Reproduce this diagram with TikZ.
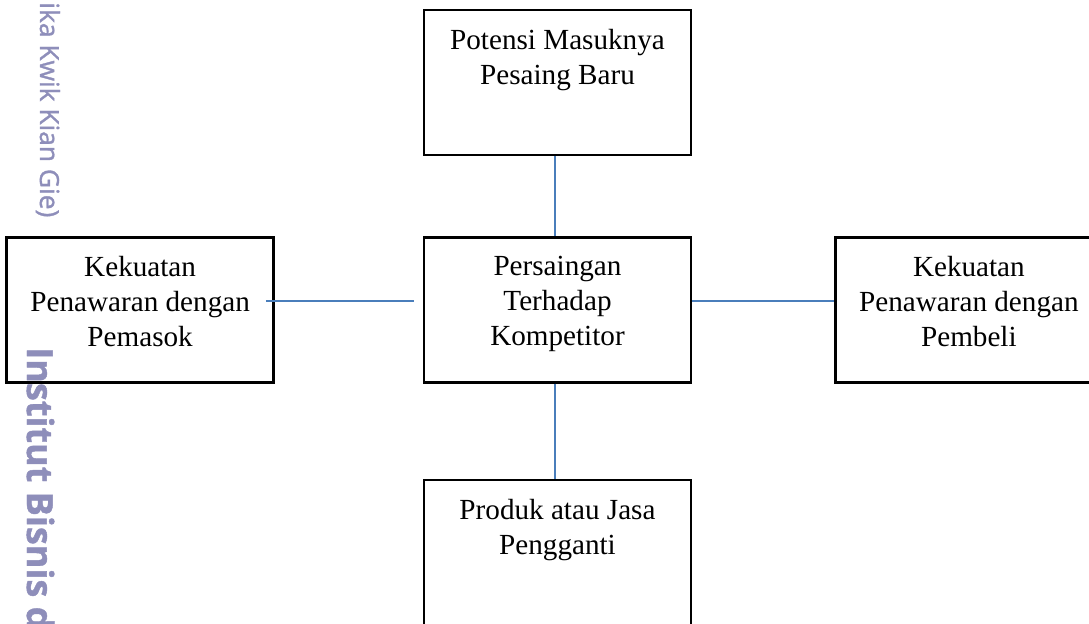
\documentclass[tikz,border=0pt]{standalone}
\usepackage{fontspec}
\setmainfont{Liberation Serif}
\newfontfamily\wmfont[FakeBold=1.2]{Open Sans}
\usetikzlibrary{positioning}
\definecolor{linkblue}{RGB}{74,126,187}
\definecolor{wmgray}{RGB}{142,142,186}

\begin{document}
\begin{tikzpicture}[x=0.02cm, y=-0.02cm,
  force/.style={draw, line width=1.4pt, minimum width=5.34cm, minimum height=2.9cm, inner sep=0pt},
  forcetext/.style={anchor=north, yshift=-0.4cm, align=center, inner sep=0pt, font=\fontsize{16.6}{19.9}\selectfont},
  wmtext/.style={rotate=-90, text=wmgray, inner sep=0pt, font=\wmfont\fontsize{15}{18}\selectfont},
  link/.style={draw=linkblue, line width=1.2pt}]
\path[use as bounding box] (0,0) rectangle (1089,623);
% watermark
\node[wmtext, anchor=base west] (wmA) at (40,2) {ika Kwik Kian Gie)};
\node[wmtext, font=\wmfont\bfseries\fontsize{20.5}{24}\selectfont, anchor=base west] (wmB) at (27,347) {Institut Bisnis d};
% five forces
\node[force, label={[forcetext]north:{Persaingan\\Terhadap\\Kompetitor}}] (centre) at (557.5,310) {};
\node[force, above=1.6cm of centre, label={[forcetext]north:{Potensi Masuknya\\Pesaing Baru}}] (entrant) {};
\node[force, below=1.9cm of centre, label={[forcetext]north:{Produk atau Jasa\\Pengganti}}] (substitute) {};
\node[force, left=2.96cm of centre, label={[forcetext]north:{Kekuatan\\Penawaran dengan\\Pemasok}}] (supplier) {};
\node[force, right=2.84cm of centre, label={[forcetext]north:{Kekuatan\\Penawaran dengan\\Pembeli}}] (buyer) {};
% links
\draw[link] ([xshift=-0.05cm]entrant.south) -- ([xshift=-0.05cm]centre.north);
\draw[link] ([xshift=-0.05cm]centre.south) -- ([xshift=-0.05cm]substitute.north);
\draw[link] ([shift={(-0.18cm,0.18cm)}]supplier.east) -- ([shift={(-0.18cm,0.18cm)}]centre.west);
\draw[link] ([yshift=0.18cm]centre.east) -- ([yshift=0.18cm]buyer.west);
\end{tikzpicture}
\end{document}
